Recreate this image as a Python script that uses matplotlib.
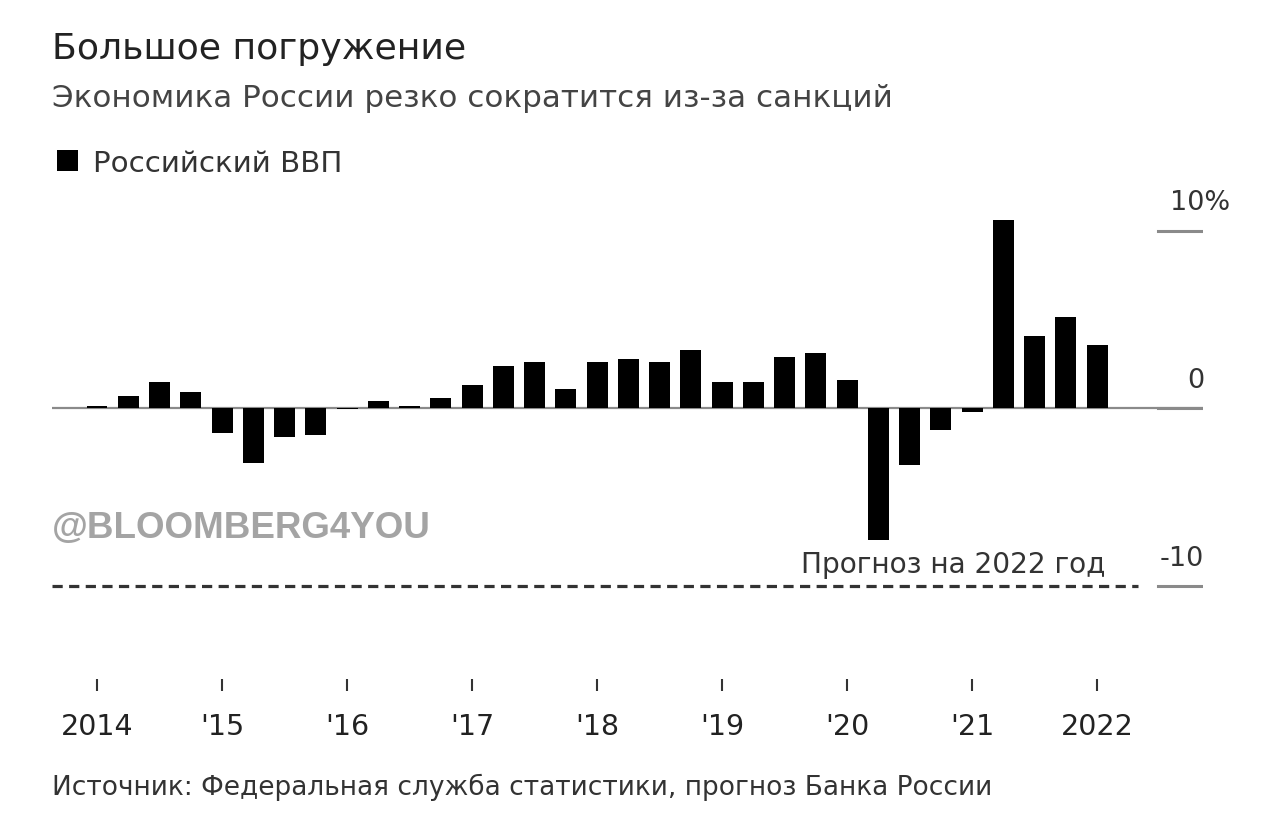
import matplotlib
matplotlib.use('Agg')
import matplotlib.pyplot as plt
from matplotlib.patches import Patch

plt.rcParams['font.family'] = ['DejaVu Sans']

# Quarterly GDP change, %, 2014 Q1 .. 2022 Q1
quarters = [2014 + i * 0.25 for i in range(33)]
gdp = [0.13, 0.67, 1.46, 0.93,
       -1.39, -3.07, -1.63, -1.48,
       -0.05, 0.43, 0.15, 0.57,
       1.31, 2.36, 2.62, 1.07,
       2.62, 2.75, 2.62, 3.27,
       1.46, 1.46, 2.88, 3.14,
       1.57, -7.40, -3.19, -1.22,
       -0.20, 10.58, 4.07, 5.12,
       3.55]

year_ticks = [2014, 2015, 2016, 2017, 2018, 2019, 2020, 2021, 2022]
year_labels = ['2014', "'15", "'16", "'17", "'18", "'19", "'20", "'21", '2022']

y_ticks = [10, 0, -10]
y_labels = ['10%', '0', '-10']

forecast = -10
forecast_label = 'Прогноз на 2022 год'

W, H = 1280, 837
fig = plt.figure(figsize=(W / 100, H / 100), dpi=100)
fig.patch.set_facecolor('white')

# axes placed in figure pixels
left, right, top, bottom = 52, 1203, 180, 692
ax = fig.add_axes([left / W, 1 - bottom / H, (right - left) / W, (bottom - top) / H])
ax.set_xlim(2013.64, 2022.848)
ax.set_ylim(-15.92, 12.91)

ax.bar(quarters, gdp, width=0.168, color='black', edgecolor='none',
       zorder=3, label='Российский ВВП')

# zero line and short right-side grid ticks
ax.axhline(0, color='#8a8a8a', lw=1.6, zorder=2)
for v in y_ticks:
    ax.axhline(v, xmin=(1158 - left) / (right - left), xmax=1, color='#8a8a8a', lw=2.2)
for v, s in zip(y_ticks, y_labels):
    if s.endswith('%'):
        ax.text(2022.585, v + 1.2, s, ha='left', va='baseline', fontsize=19.5, color='#333333')
    else:
        ax.text(2022.856, v + 1.2, s, ha='right', va='baseline', fontsize=19.5, color='#333333')

# forecast line
ax.axhline(forecast, xmin=0, xmax=(1138 - left) / (right - left), color='#333333',
           lw=2.3, linestyle=(0, (3.2, 2)))
ax.text(2022.064, forecast + 0.78, forecast_label, ha='right', va='baseline',
        fontsize=20.2, color='#333333')

# watermark
ax.text(2013.64, -6.7, '@BLOOMBERG4YOU', ha='left', va='center', fontsize=26.5,
        fontweight='bold', color='#9a9a9a', alpha=0.9, family='Liberation Sans')

for s in ax.spines.values():
    s.set_visible(False)
ax.set_yticks([])
ax.set_xticks(year_ticks)
ax.set_xticklabels(year_labels)
ax.tick_params(axis='x', direction='in', length=9, width=1.5, color='#333333',
               pad=15, labelsize=20.5, labelcolor='#222222')

# titles
fig.text(left / W, 1 - 59 / H, 'Большое погружение', fontsize=26.1, color='#222222',
         ha='left', va='baseline')
fig.text(left / W, 1 - 107 / H, 'Экономика России резко сократится из-за санкций',
         fontsize=22.3, color='#444444', ha='left', va='baseline')

leg = fig.legend(handles=[Patch(facecolor='black', label='Российский ВВП')],
                 loc='upper left', bbox_to_anchor=(57 / W, 1 - 150 / H), frameon=False,
                 fontsize=21.2, handlelength=0.72, handleheight=0.72, handletextpad=0.5,
                 borderpad=0, borderaxespad=0)
for t in leg.get_texts():
    t.set_color('#333333')

fig.text(left / W, 1 - 795 / H,
         'Источник: Федеральная служба статистики, прогноз Банка России',
         fontsize=19.0, color='#333333', ha='left', va='baseline')

fig.savefig('out.png', dpi=100, facecolor='white')
